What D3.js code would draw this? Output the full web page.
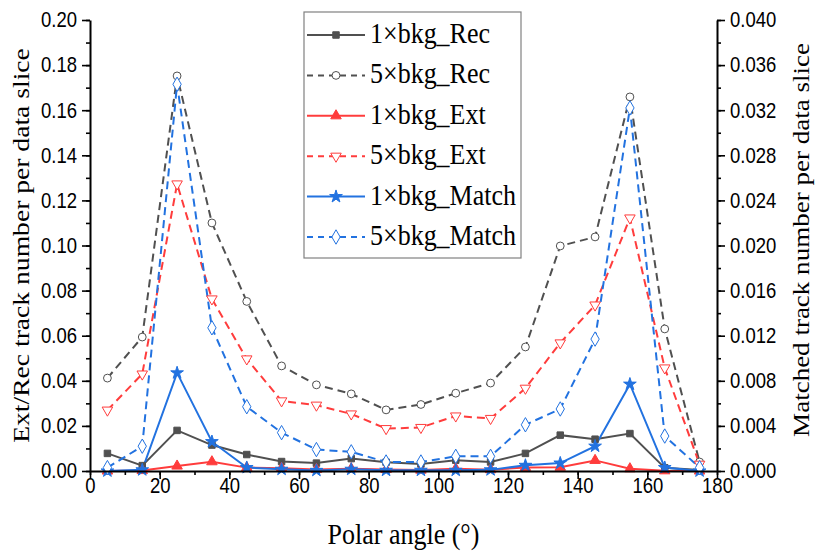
<!DOCTYPE html>
<html><head><meta charset="utf-8">
<script src="https://cdn.jsdelivr.net/npm/d3@7"></script>
<style>body{margin:0;background:#fff}svg{display:block}</style>
</head><body>
<svg id="c" width="818" height="551"></svg>
<script>
const angles = [5,15,25,35,45,55,65,75,85,95,105,115,125,135,145,155,165,175];
// left axis (Ext/Rec)
const rec1 = [0.0078,0.0024,0.0180,0.0115,0.0073,0.0042,0.0035,0.0055,0.0039,0.0031,0.0048,0.0040,0.0078,0.0159,0.0141,0.0166,0.0014,0.0004];
const rec5 = [0.0412,0.0594,0.1752,0.1100,0.0752,0.0466,0.0382,0.0342,0.0271,0.0295,0.0345,0.0390,0.0550,0.0998,0.1038,0.1659,0.0630,0.0040];
const ext1 = [0.0000,0.0002,0.0022,0.0041,0.0015,0.0012,0.0007,0.0010,0.0007,0.0004,0.0010,0.0006,0.0016,0.0017,0.0047,0.0010,0.0001,0.0000];
const ext5 = [0.0270,0.0430,0.1273,0.0763,0.0497,0.0311,0.0292,0.0253,0.0188,0.0193,0.0244,0.0233,0.0367,0.0568,0.0736,0.1122,0.0457,0.0030];
// right axis (Matched)
const match1 = [0.0000,0.0001,0.0087,0.0026,0.0003,0.00015,0.00005,0.00015,0.00006,0.00006,0.00006,0.0001,0.0005,0.0007,0.0022,0.0077,0.0003,0.0000];
const match5 = [0.0003,0.0022,0.0343,0.0127,0.0057,0.0034,0.0019,0.0017,0.0008,0.0008,0.0013,0.0013,0.0041,0.0055,0.0117,0.0322,0.0031,0.0003];
const xTicks = [0,20,40,60,80,100,120,140,160,180];
const yLeftTicks = [0,0.02,0.04,0.06,0.08,0.10,0.12,0.14,0.16,0.18,0.20];
const yRightTicks = [0,0.004,0.008,0.012,0.016,0.020,0.024,0.028,0.032,0.036,0.040];
const names = ["1×bkg_Rec","5×bkg_Rec","1×bkg_Ext","5×bkg_Ext","1×bkg_Match","5×bkg_Match"];

const svg = d3.select("#c");
const L=90,R=717,T=20,B=471;
const SY = 1.15; // vertical stretch of the reference text
const x = d3.scaleLinear().domain([0,180]).range([L,R]);
const yL = d3.scaleLinear().domain([0,0.2]).range([B,T]);
const yR = d3.scaleLinear().domain([0,0.04]).range([B,T]);
const gray="#505050", red="#ff3c3c", blue="#2272e0";
const tickFont = "'Liberation Sans',Arial,sans-serif";
const serif = "'Liberation Serif','Times New Roman',serif";

const series = [
 {name:names[0], data:rec1, y:yL, color:gray, dash:null, sym:"square", fill:true},
 {name:names[1], data:rec5, y:yL, color:gray, dash:"8,5", sym:"circle", fill:false},
 {name:names[2], data:ext1, y:yL, color:red, dash:null, sym:"triangle", fill:true},
 {name:names[3], data:ext5, y:yL, color:red, dash:"8,5", sym:"triangleDown", fill:false},
 {name:names[4], data:match1, y:yR, color:blue, dash:null, sym:"star", fill:true},
 {name:names[5], data:match5, y:yR, color:blue, dash:"8,5", sym:"diamond", fill:false}
];
function symPath(s, size){
  const m={square:d3.symbolSquare,circle:d3.symbolCircle,triangle:d3.symbolTriangle,triangleDown:d3.symbolTriangle,star:d3.symbolStar,diamond:d3.symbolDiamond};
  return d3.symbol(m[s], size)();
}
function drawMarker(g, s, cx, cy){
  const size = s.sym==="square"?42: s.sym==="circle"?48: s.sym==="diamond"?60: s.sym==="star"?50:48;
  g.append("path").attr("d", symPath(s.sym,size))
   .attr("transform", `translate(${cx},${cy})` + (s.sym==="triangleDown"?" rotate(180)":""))
   .attr("fill", s.fill?s.color:"#fff").attr("stroke", s.color).attr("stroke-width",1);
}

// lines
const plot = svg.append("g");
series.forEach(s=>{
  const line = d3.line().x((d,i)=>x(angles[i])).y(d=>s.y(d));
  plot.append("path").datum(s.data).attr("d",line).attr("fill","none")
    .attr("stroke",s.color).attr("stroke-width",2).attr("stroke-dasharray",s.dash);
});
series.forEach(s=>{
  s.data.forEach((d,i)=>drawMarker(plot,s,x(angles[i]),s.y(d)));
});

// axes
function styleAxis(g){
  g.selectAll("path.domain").attr("stroke","#000").attr("stroke-width",2);
  g.selectAll(".tick line").attr("stroke","#000").attr("stroke-width",1.6);
  g.selectAll("text").attr("font-family",tickFont).attr("font-size",18.5).attr("fill","#000")
    .attr("transform",`scale(1,${SY})`);
}
function minor(g){g.select(".domain").remove();g.selectAll(".tick line").attr("stroke","#000").attr("stroke-width",1.6);}
const MAJ=8, MIN=4;
svg.append("g").attr("transform",`translate(0,${B})`)
  .call(d3.axisBottom(x).tickValues(d3.range(0,181,10)).tickSize(MIN).tickFormat("")).call(minor);
const gx = svg.append("g").attr("transform",`translate(0,${B})`)
  .call(d3.axisBottom(x).tickValues(xTicks).tickSize(MAJ).tickSizeOuter(0).tickPadding(-2).tickFormat(d3.format("d")));
styleAxis(gx);

svg.append("g").attr("transform",`translate(${L},0)`)
  .call(d3.axisLeft(yL).tickValues(d3.range(0,0.2001,0.01)).tickSize(MIN).tickFormat("")).call(minor);
const gyl = svg.append("g").attr("transform",`translate(${L},0)`)
  .call(d3.axisLeft(yL).tickValues(yLeftTicks).tickSize(MAJ).tickSizeOuter(0).tickPadding(5).tickFormat(d3.format(".2f")));
styleAxis(gyl);

svg.append("g").attr("transform",`translate(${R},0)`)
  .call(d3.axisRight(yR).tickValues(d3.range(0,0.04001,0.002)).tickSize(MIN).tickFormat("")).call(minor);
const gyr = svg.append("g").attr("transform",`translate(${R},0)`)
  .call(d3.axisRight(yR).tickValues(yRightTicks).tickSize(MAJ).tickSizeOuter(0).tickPadding(5).tickFormat(d3.format(".3f")));
styleAxis(gyr);

// titles
svg.append("text").attr("transform",`translate(${(L+R)/2},544) scale(1,${SY})`).attr("text-anchor","middle")
  .attr("font-family",serif).attr("font-size",26).text("Polar angle (°)");
svg.append("text").attr("transform",`translate(29,${(T+B)/2}) rotate(-90) scale(${SY},1)`).attr("text-anchor","middle")
  .attr("font-family",serif).attr("font-size",24).text("Ext/Rec track number per data slice");
svg.append("text").attr("transform",`translate(809,240) rotate(-90) scale(${SY},1)`).attr("text-anchor","middle")
  .attr("font-family",serif).attr("font-size",23.5).text("Matched track number per data slice");

// legend
const lg = svg.append("g");
lg.append("rect").attr("x",304).attr("y",12).attr("width",217).attr("height",246)
  .attr("fill","#fff").attr("stroke","#808080").attr("stroke-width",1.2);
series.forEach((s,i)=>{
  const cy = 35 + i*40.4;
  lg.append("line").attr("x1",307).attr("x2",365).attr("y1",cy).attr("y2",cy)
    .attr("stroke",s.color).attr("stroke-width",2).attr("stroke-dasharray",s.dash?"6,5":null);
  drawMarker(lg,s,336,cy);
  lg.append("text").attr("transform",`translate(370,${cy+8}) scale(1,${SY})`)
    .attr("font-family",serif).attr("font-size",26).text(s.name);
});
</script>
</body></html>
